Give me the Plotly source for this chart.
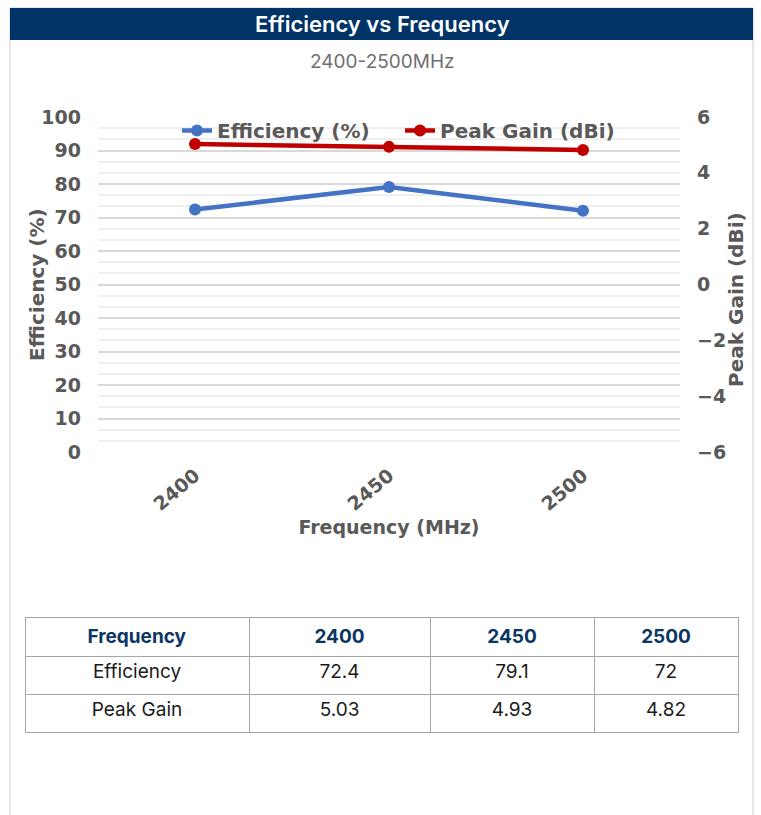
import plotly.graph_objects as go

frequencies = ["2400", "2450", "2500"]
efficiency = [72.4, 79.1, 72.0]
peak_gain = [5.03, 4.93, 4.82]
table_header = ["Frequency", "2400", "2450", "2500"]
table_rows = [["Efficiency", "72.4", "79.1", "72"], ["Peak Gain", "5.03", "4.93", "4.82"]]

W, H = 761, 815
def px(x):
    return x / W
def py(y):
    return 1 - y / H

fig = go.Figure()
fig.add_trace(go.Scatter(x=frequencies, y=efficiency, name="Efficiency (%)", mode="lines+markers",
                         line=dict(color="#4472C4", width=4.5), marker=dict(size=12, color="#4472C4"),
                         yaxis="y"))
fig.add_trace(go.Scatter(x=frequencies, y=peak_gain, name="Peak Gain (dBi)", mode="lines+markers",
                         line=dict(color="#C00000", width=4.5), marker=dict(size=12, color="#C00000"),
                         yaxis="y2"))

header_vals = [f"<b>{h}</b>" for h in table_header]
cell_vals = [[r[i] for r in table_rows] for i in range(4)]
fig.add_trace(go.Table(
    domain=dict(x=[px(25), px(738)], y=[py(735), py(617)]),
    columnwidth=[224, 181, 164, 144],
    header=dict(values=header_vals, fill_color="white", line=dict(color="#a6a6a6", width=1),
                font=dict(family="Inter", size=19, color="#0b3563"), height=38, align="center"),
    cells=dict(values=cell_vals, fill_color="white", line=dict(color="#a6a6a6", width=1),
               font=dict(family="Inter", size=19, color="#1a1a1a"), height=38, align="center"),
))

tickfont = dict(family="DejaVu Sans", size=19, color="#595959", weight="bold")
titlefont = dict(family="DejaVu Sans", size=20, color="#595959", weight="bold")
fig.update_layout(
    width=W, height=H, margin=dict(l=0, r=0, t=0, b=0, autoexpand=False),
    paper_bgcolor="white", plot_bgcolor="white", showlegend=True,
    legend=dict(orientation="h", x=px(177), y=py(111), xanchor="left", yanchor="top",
                font=dict(family="DejaVu Sans", size=20, color="#595959", weight="bold"),
                bgcolor="rgba(0,0,0,0)", tracegroupgap=0, entrywidth=178, entrywidthmode="pixels"),
    xaxis=dict(domain=[px(98), px(680)], type="category", range=[-0.5, 2.5], tickangle=-40, tickfont=tickfont,
               showgrid=False, ticks="", showline=False, automargin=False, ticklabelstandoff=8,
               title=dict(text="Frequency (MHz)", font=dict(family="DejaVu Sans", size=19, color="#595959", weight="bold"), standoff=6)),
    yaxis=dict(domain=[py(452), py(117)], range=[0, 100], dtick=10, tickfont=tickfont,
               gridcolor="#d9d9d9", gridwidth=1.5, zeroline=False, showline=False, automargin=False,
               minor=dict(dtick=10/3, showgrid=True, gridcolor="#efefef", gridwidth=1.5),
               ticklabelstandoff=16),
    yaxis2=dict(overlaying="y", side="right", range=[-6, 6], dtick=2, tickfont=tickfont, automargin=False,
                showgrid=False, zeroline=False, showline=False, ticklabelstandoff=16),
    shapes=[
        dict(type="rect", xref="paper", yref="paper", x0=px(10), x1=px(753), y0=py(830), y1=py(8),
             line=dict(color="#cccccc", width=1), fillcolor="rgba(0,0,0,0)", layer="below"),
        dict(type="rect", xref="paper", yref="paper", x0=px(10), x1=px(753), y0=py(40), y1=py(8),
             line=dict(width=0), fillcolor="#003366", layer="below"),
    ],
    annotations=[
        dict(text="Efficiency vs Frequency", xref="paper", yref="paper", x=px(382), y=py(24),
             showarrow=False, font=dict(family="Inter", size=22, color="white", weight=600),
             xanchor="center", yanchor="middle"),
        dict(text="2400-2500MHz", xref="paper", yref="paper", x=px(382), y=py(61),
             showarrow=False, font=dict(family="Inter", size=19, color="#6f6f6f"), xanchor="center", yanchor="middle"),
        dict(text="Efficiency (%)", xref="paper", yref="paper", x=px(37), y=py(285), textangle=-90,
             showarrow=False, font=titlefont, xanchor="center", yanchor="middle"),
        dict(text="Peak Gain (dBi)", xref="paper", yref="paper", x=px(736), y=py(300), textangle=-90,
             showarrow=False, font=titlefont, xanchor="center", yanchor="middle"),
    ],
)

fig.write_html("out.html", config={"displayModeBar": False},
               post_script="document.body.style.margin='0px';document.body.style.overflow='hidden';")
